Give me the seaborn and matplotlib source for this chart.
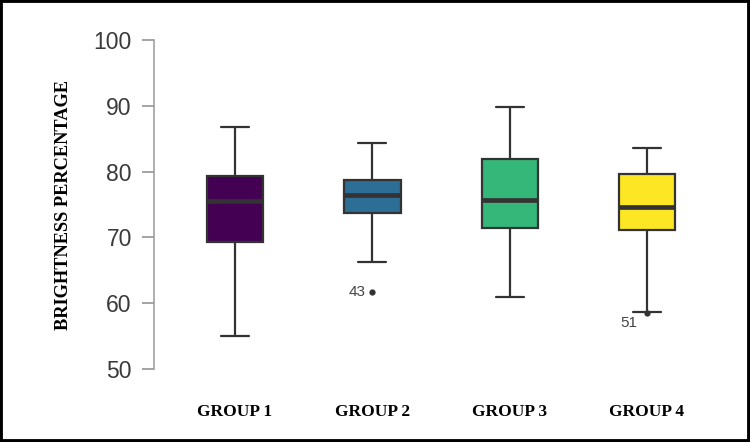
import numpy as np
import pandas as pd
import matplotlib
matplotlib.use("Agg")
import matplotlib.pyplot as plt
from matplotlib.patches import Rectangle
import seaborn as sns

sns.set_theme(style="white")

# ── Values ───────────────────────────────────────────────────────────────────
GROUPS = ["GROUP 1", "GROUP 2", "GROUP 3", "GROUP 4"]
whisker_low = [55.0, 66.2, 61.0, 58.6]
q1 = [69.3, 73.7, 71.5, 71.2]
median = [75.6, 76.4, 75.7, 74.7]
q3 = [79.3, 78.7, 81.9, 79.6]
whisker_high = [86.8, 84.3, 89.9, 83.6]
COLORS = ["#440154", "#2c6e95", "#35b779", "#fde725"]

outlier_group = ["GROUP 2", "GROUP 4"]
outlier_value = [61.7, 58.5]
outlier_label = ["43", "51"]

Y_TICKS = [50, 60, 70, 80, 90, 100]

# long-form table: five points per group give exactly these quartiles
rows = []
for i, g in enumerate(GROUPS):
    for v in (whisker_low[i], q1[i], median[i], q3[i], whisker_high[i]):
        rows.append({"group": g, "brightness": v})
df = pd.DataFrame(rows)
out_df = pd.DataFrame({"group": outlier_group, "brightness": outlier_value})

# ── Plot ─────────────────────────────────────────────────────────────────────
fig = plt.figure(figsize=(7.5, 4.42), dpi=100)
ax = fig.add_axes([0.2053, 0.165, 0.749, 0.7443])

sns.boxplot(
    data=df, x="group", y="brightness", hue="group", order=GROUPS,
    hue_order=GROUPS, palette=COLORS, legend=False, whis=np.inf,
    width=0.41, linecolor="#333333", linewidth=1.6, saturation=1,
    medianprops={"linewidth": 3.4, "color": "#333333"}, ax=ax,
)
sns.stripplot(
    data=out_df, x="group", y="brightness", order=GROUPS, jitter=False,
    color="#333333", size=4.5, ax=ax, zorder=5,
)
# point id labels
ax.annotate(outlier_label[0], (GROUPS.index(outlier_group[0]), outlier_value[0]),
            xytext=(-4.5, 0), textcoords="offset points", ha="right", va="center",
            fontsize=11, color="#444444", family="Liberation Sans")
ax.annotate(outlier_label[1], (GROUPS.index(outlier_group[1]), outlier_value[1]),
            xytext=(-7, -7), textcoords="offset points", ha="right", va="center",
            fontsize=11, color="#444444", family="Liberation Sans")

ax.set_ylim(50, 100)
ax.set_xlim(-0.59, 3.5)
ax.set_yticks(Y_TICKS)
ax.set_yticklabels([str(t) for t in Y_TICKS], family="Liberation Sans",
                   fontsize=16.5, color="#3a3a3a")
ax.tick_params(axis="y", left=True, length=8.5, width=1.1, color="#8c8c8c", pad=7.5)
ax.tick_params(axis="x", bottom=False, pad=19)
for lbl in ax.get_xticklabels():
    lbl.set_fontfamily("Liberation Serif")
    lbl.set_fontweight("bold")
    lbl.set_fontsize(12.5)
    lbl.set_color("black")

for side in ["top", "right", "bottom"]:
    ax.spines[side].set_visible(False)
ax.spines["left"].set_color("#9a9a9a")
ax.spines["left"].set_linewidth(1.1)

ax.set_xlabel("")
ax.set_ylabel("BRIGHTNESS PERCENTAGE", family="Liberation Serif",
              fontweight="bold", fontsize=13.2, color="black")
ax.yaxis.set_label_coords(-0.146, 0.5)

# black frame around the whole picture
fig.patches.append(Rectangle((0, 0), 1, 1, transform=fig.transFigure,
                             fill=False, edgecolor="black", linewidth=4.2))

fig.savefig("out.png", dpi=100)
